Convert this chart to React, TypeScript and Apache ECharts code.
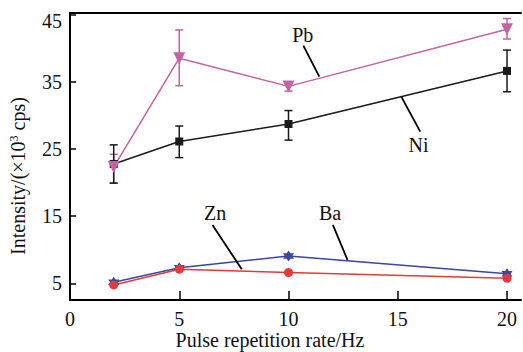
import React, { useEffect, useRef } from "react";
import * as echarts from "echarts";

const rates = [2, 5, 10, 20];
const pb = [22.3, 38.5, 34.3, 42.8];
const pbLow = [19.9, 34.4, 33.6, 41.35];
const pbHigh = [24.2, 42.7, 34.9, 44.4];
const ni = [22.75, 26.1, 28.7, 36.6];
const niLow = [19.9, 23.7, 26.3, 33.5];
const niHigh = [25.6, 28.4, 30.7, 39.7];
const zn = [4.75, 7.1, 6.6, 5.75];
const ba = [5.15, 7.3, 9.05, 6.4];
const yTicks = [5, 15, 25, 35, 45];
const xTicks = [0, 5, 10, 15, 20];

// annotation labels, text anchor and leader line, in data coordinates
const annNames = ["Pb", "Ni", "Zn", "Ba"];
const annText = [
  [10.65, 41.95],
  [15.95, 25.58],
  [6.64, 15.42],
  [11.9, 15.5],
];
const annLine = [
  [10.68, 40.36, 11.41, 35.74],
  [15.16, 32.77, 16.03, 27.56],
  [6.52, 13.68, 7.86, 7.08],
  [12.03, 13.68, 12.7, 8.47],
];

const PINK = "#c2649f";
const BLACK = "#1a1a1a";
const RED = "#e53a3c";
const BLUE = "#3a46a0";
const FONT = "Liberation Serif";
const HEX = "path://M0,-10L8.66,5L-8.66,5Z M0,10L-8.66,-5L8.66,-5Z";

function errSeries(low: number[], high: number[], color: string) {
  return {
    type: "custom",
    z: 1,
    data: rates.map((r, i) => [r, low[i], high[i]]),
    renderItem: (params: any, api: any) => {
      const x = api.value(0);
      const lo = api.coord([x, api.value(1)]);
      const hi = api.coord([x, api.value(2)]);
      const w = 4;
      const style = { stroke: color, lineWidth: 1.5 };
      return {
        type: "group",
        children: [
          { type: "line", shape: { x1: lo[0], y1: lo[1], x2: hi[0], y2: hi[1] }, style },
          { type: "line", shape: { x1: lo[0] - w, y1: lo[1], x2: lo[0] + w, y2: lo[1] }, style },
          { type: "line", shape: { x1: hi[0] - w, y1: hi[1], x2: hi[0] + w, y2: hi[1] }, style },
        ],
      };
    },
  };
}

function lineSeries(name: string, vals: number[], color: string, symbol: string, size: number, rotate = 0) {
  return {
    name,
    type: "line",
    z: 3,
    data: rates.map((r, i) => [r, vals[i]]),
    symbol,
    symbolSize: size,
    symbolRotate: rotate,
    showSymbol: true,
    lineStyle: { color, width: 1.5 },
    itemStyle: { color, borderColor: color, borderWidth: 0 },
  };
}

export default function App() {
  const ref = useRef<HTMLDivElement>(null);
  useEffect(() => {
    if (!ref.current) return;
    const chart = echarts.init(ref.current, null, { renderer: "svg" });
    const axisText = { color: "#111", fontFamily: FONT, fontSize: 20 };
    chart.setOption({
      animation: false,
      backgroundColor: "#fff",
      grid: { left: 70, right: 2, top: 13, bottom: 52 },
      xAxis: [
        {
          type: "value",
          min: 0,
          max: 20.64,
          axisLine: { show: true, onZero: false, lineStyle: { color: "#000", width: 2 } },
          axisTick: { show: true, inside: true, length: 9, customValues: xTicks.slice(1), lineStyle: { color: "#000", width: 1.5 } },
          axisLabel: { ...axisText, margin: 9, customValues: xTicks, formatter: (v: number) => String(v) },
          splitLine: { show: false },
        },
        {
          type: "value",
          position: "top",
          min: 0,
          max: 20.64,
          axisLine: { show: true, lineStyle: { color: "#000", width: 2 } },
          axisTick: { show: false },
          axisLabel: { show: false },
          splitLine: { show: false },
        },
      ],
      yAxis: {
        type: "value",
        min: 2.51,
        max: 45.22,
        axisLine: { show: true, onZero: false, lineStyle: { color: "#000", width: 2 } },
        axisTick: { show: true, inside: true, length: 6, customValues: yTicks, lineStyle: { color: "#000", width: 1.5 } },
        axisLabel: {
          ...axisText,
          margin: 8,
          customValues: yTicks,
          formatter: (v: number) => (v === 45 ? "{top|45}" : String(v)),
          rich: { top: { fontFamily: FONT, fontSize: 20, color: "#111", padding: [13, 0, 0, 0] } },
        },
        splitLine: { show: false },
      },
      series: [
        errSeries(pbLow, pbHigh, PINK),
        errSeries(niLow, niHigh, BLACK),
        lineSeries("Ba", ba, BLUE, HEX, 11),
        lineSeries("Zn", zn, RED, "circle", 9),
        lineSeries("Ni", ni, BLACK, "rect", 8),
        lineSeries("Pb", pb, PINK, "triangle", 12, 180),
      ],
    });

    const graphics: any[] = [];
    annNames.forEach((n, i) => {
      const t = chart.convertToPixel({ gridIndex: 0 }, annText[i]) as number[];
      const a = chart.convertToPixel({ gridIndex: 0 }, [annLine[i][0], annLine[i][1]]) as number[];
      const b = chart.convertToPixel({ gridIndex: 0 }, [annLine[i][2], annLine[i][3]]) as number[];
      graphics.push({
        type: "text",
        x: t[0],
        y: t[1],
        style: { text: n, fill: "#111", font: `20px '${FONT}'`, align: "center", verticalAlign: "middle" },
        z: 10,
      });
      graphics.push({
        type: "line",
        shape: { x1: a[0], y1: a[1], x2: b[0], y2: b[1] },
        style: { stroke: "#000", lineWidth: 1.8 },
        z: 10,
      });
    });
    graphics.push({
      type: "text",
      x: 270,
      y: 340,
      style: { text: "Pulse repetition rate/Hz", fill: "#111", font: `20px '${FONT}'`, align: "center", verticalAlign: "middle" },
    });
    graphics.push({
      type: "text",
      x: 18,
      y: 176,
      rotation: Math.PI / 2,
      style: {
        text: "Intensity/(×10{sup|3} cps)",
        fill: "#111",
        font: `20px '${FONT}'`,
        align: "center",
        verticalAlign: "middle",
        rich: { sup: { fontSize: 12, fontFamily: FONT, verticalAlign: "top", padding: [0, 0, 9, 0], fill: "#111" } },
      },
    });
    chart.setOption({ graphic: graphics });
    return () => chart.dispose();
  }, []);
  return <div ref={ref} style={{ width: 523, height: 352, position: "fixed", left: 0, top: 0 }} />;
}
